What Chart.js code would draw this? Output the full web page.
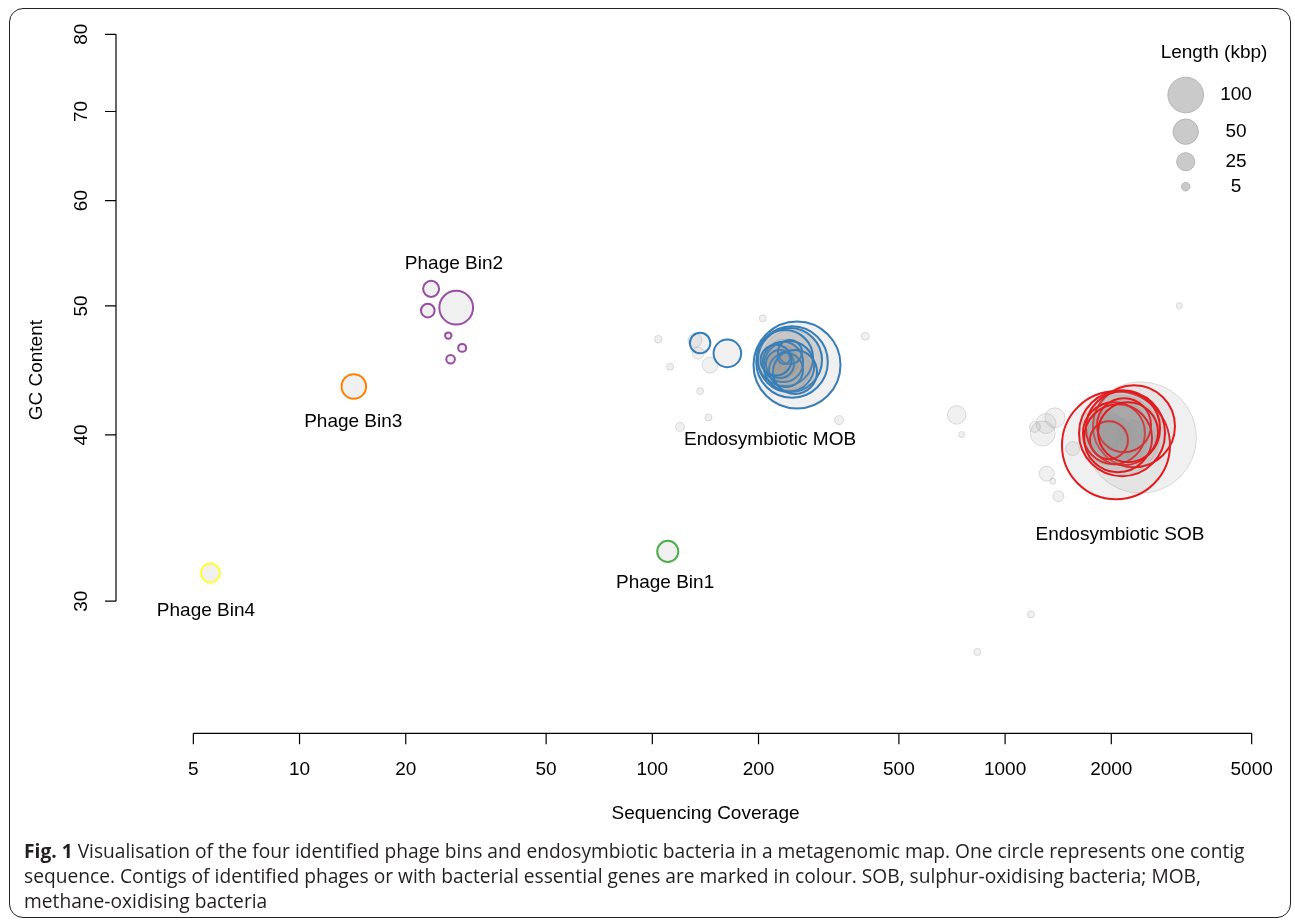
<!DOCTYPE html>
<html>
<head>
<meta charset="utf-8">
<script src="https://cdn.jsdelivr.net/npm/chart.js@4.4.1/dist/chart.umd.min.js"></script>
<style>
  html, body { margin: 0; padding: 0; background: #fff; }
  #wrap { position: relative; width: 1295px; height: 921px; overflow: hidden; }
  #frame { position: absolute; left: 9px; top: 8px; width: 1282px; height: 910px;
           border: 1.5px solid #222; border-radius: 14px; box-sizing: border-box; }
  #plot { position: absolute; left: 0; top: 0; }
  #caption { position: absolute; left: 24px; top: 838px; font-family: 'Open Sans', sans-serif;
             font-size: 19.2px; line-height: 25px; color: #231f20; white-space: nowrap; }
  #caption b { font-weight: 700; }
</style>
</head>
<body>
<div id="wrap">
  <div id="frame"></div>
  <canvas id="plot" width="1295" height="921"></canvas>
  <div id="caption">
    <b>Fig. 1</b> Visualisation of the four identified phage bins and endosymbiotic bacteria in a metagenomic map. One circle represents one contig<br>
    sequence. Contigs of identified phages or with bacterial essential genes are marked in colour. SOB, sulphur-oxidising bacteria; MOB,<br>
    methane-oxidising bacteria
  </div>
</div>
<script>
// Axis ticks
const coverageTicks = [5, 10, 20, 50, 100, 200, 500, 1000, 2000, 5000];
const gcTicks = [30, 40, 50, 60, 70, 80];

// Legend sizes (kbp)
const legendLengths = [100, 50, 25, 5];

// Unassigned contigs (grey)
const otherCoverage = [104.0, 205.6, 401.6, 112.3, 136.6, 144.2, 119.8, 338.3, 132.1, 134.8, 145.8,
                       239.3, 230.1, 242.5, 234.7, 248.9,
                       3118, 729, 753.4, 1278, 1385, 1215, 1306, 1312, 1365, 1416, 1554, 1184, 834,
                       2423, 2117, 1983, 2350, 2090, 2187, 1919];
const otherGC =       [47.21, 48.94, 47.45, 45.01, 43.15, 41.23, 40.56, 41.04, 47.12, 46.08, 45.14,
                       45.14, 45.38, 44.91, 45.38, 45.53,
                       50.02, 41.41, 40.03, 40.10, 41.20, 40.56, 40.80, 37.41, 36.93, 35.98, 39.07, 29.32, 27.48,
                       39.82, 39.98, 39.64, 39.64, 40.33, 39.64, 40.33];
const otherLength =   [2.8, 2.4, 3.3, 2.4, 2.4, 2.4, 4.5, 4.5, 12.5, 8.8, 16.9,
                       207, 97, 147, 66, 278,
                       1.6, 23.6, 1.6, 44.7, 27.6, 7.2, 27.6, 14.7, 1.6, 7.2, 12.5, 2.4, 2.4,
                       985, 502, 191, 120, 278, 147, 120];

// Endosymbiotic MOB contigs
const mobCoverage = [136.6, 163.2, 257.1, 248.9, 245.6, 237.8, 244.1, 234.7, 239.3, 230.1, 245.6, 236.2, 253.8, 224.2];
const mobGC =       [46.9, 46.06, 45.14, 45.38, 45.53, 45.69, 45.06, 45.38, 44.75, 45.22, 46.17, 45.69, 44.60, 45.53];
const mobLength =   [29, 55, 595, 400, 318, 242, 194, 122, 86, 57, 41, 9, 147, 70];

// Endosymbiotic SOB contigs
const sobCoverage = [2062, 2319, 2145, 2159, 2035, 2173, 1970, 2090, 2231];
const sobGC =       [39.29, 40.61, 40.12, 40.47, 40.12, 40.68, 39.64, 39.77, 40.19];
const sobLength =   [924, 528, 582, 428, 298, 224, 108, 360, 278];

// Phage bins
const bin1Coverage = [110.6];
const bin1GC = [32.7];
const bin1Length = [31];

const bin2Coverage = [27.8, 23.6, 23.1, 26.4, 28.9, 26.8];
const bin2GC = [49.85, 51.5, 49.6, 47.5, 46.5, 45.6];
const bin2Length = [84, 17, 11.8, 1.9, 3.3, 4];

const bin3Coverage = [14.25];
const bin3GC = [43.5];
const bin3Length = [43];

const bin4Coverage = [5.59];
const bin4GC = [31.5];
const bin4Length = [25];

// Group annotations
const groupLabels = ['Phage Bin2', 'Phage Bin3', 'Phage Bin1', 'Phage Bin4', 'Endosymbiotic MOB', 'Endosymbiotic SOB'];
const labelCoverage = [27.4, 14.2, 108.7, 5.43, 215.6, 2117];
const labelGC = [53.8, 40.9, 30.95, 29.53, 39.64, 33.63];

// Circle radius in pixels from contig length in kbp
function radiusFor(len) { return 1.75 * Math.sqrt(len) + 0.8; }

function points(cov, gc, len) {
  return cov.map((c, i) => ({ x: c, y: gc[i], r: radiusFor(len[i]) }));
}

const FILL = 'rgba(150,150,150,0.14)';
const FONT = '19px "Liberation Sans", Arial, sans-serif';

function groupSet(label, cov, gc, len, color) {
  return {
    label, data: points(cov, gc, len),
    backgroundColor: FILL, borderColor: color, borderWidth: 2, order: 0
  };
}

const datasets = [
  groupSet('Phage Bin1', bin1Coverage, bin1GC, bin1Length, '#4daf4a'),
  groupSet('Phage Bin2', bin2Coverage, bin2GC, bin2Length, '#984ea3'),
  groupSet('Phage Bin3', bin3Coverage, bin3GC, bin3Length, '#ff7f00'),
  groupSet('Phage Bin4', bin4Coverage, bin4GC, bin4Length, '#ffff33'),
  groupSet('MOB', mobCoverage, mobGC, mobLength, '#377eb8'),
  groupSet('SOB', sobCoverage, sobGC, sobLength, '#e41a1c'),
  {
    label: 'Other', data: points(otherCoverage, otherGC, otherLength),
    backgroundColor: FILL, borderColor: 'rgba(150,150,150,0.3)', borderWidth: 1, order: 1
  }
];

const axesPlugin = {
  id: 'baseAxes',
  afterDatasetsDraw(chart) {
    const { ctx, chartArea, scales: { x, y } } = chart;
    ctx.save();
    ctx.strokeStyle = '#000';
    ctx.fillStyle = '#000';
    ctx.lineWidth = 1.2;
    ctx.font = FONT;

    // bottom axis
    const yb = chartArea.bottom;
    const x0 = x.getPixelForValue(coverageTicks[0]);
    const x1 = x.getPixelForValue(coverageTicks[coverageTicks.length - 1]);
    ctx.beginPath();
    ctx.moveTo(x0, yb); ctx.lineTo(x1, yb);
    coverageTicks.forEach(v => {
      const px = x.getPixelForValue(v);
      ctx.moveTo(px, yb); ctx.lineTo(px, yb + 11);
    });
    ctx.stroke();
    ctx.textAlign = 'center';
    ctx.textBaseline = 'middle';
    coverageTicks.forEach(v => {
      ctx.fillText(String(v), x.getPixelForValue(v), yb + 36);
    });

    // left axis
    const xl = chartArea.left;
    const y0 = y.getPixelForValue(gcTicks[0]);
    const y1 = y.getPixelForValue(gcTicks[gcTicks.length - 1]);
    ctx.beginPath();
    ctx.moveTo(xl, y0); ctx.lineTo(xl, y1);
    gcTicks.forEach(v => {
      const py = y.getPixelForValue(v);
      ctx.moveTo(xl, py); ctx.lineTo(xl - 11, py);
    });
    ctx.stroke();
    gcTicks.forEach(v => {
      ctx.save();
      ctx.translate(xl - 34, y.getPixelForValue(v));
      ctx.rotate(-Math.PI / 2);
      ctx.fillText(String(v), 0, 0);
      ctx.restore();
    });

    // axis titles
    ctx.fillText('Sequencing Coverage', (chartArea.left + chartArea.right) / 2, 814);
    ctx.save();
    ctx.translate(37, (chartArea.top + chartArea.bottom) / 2);
    ctx.rotate(-Math.PI / 2);
    ctx.fillText('GC Content', 0, 0);
    ctx.restore();

    // group annotations
    groupLabels.forEach((t, i) => {
      ctx.fillText(t, x.getPixelForValue(labelCoverage[i]), y.getPixelForValue(labelGC[i]));
    });

    // size legend
    ctx.fillText('Length (kbp)', 1214, 53);
    const legendY = [95, 131.7, 161.7, 186.7];
    legendLengths.forEach((len, i) => {
      ctx.beginPath();
      ctx.arc(1185.7, legendY[i], radiusFor(len) - 0.5, 0, Math.PI * 2);
      ctx.fillStyle = '#cacaca';
      ctx.fill();
      ctx.strokeStyle = '#b5b5b5';
      ctx.lineWidth = 1;
      ctx.stroke();
      ctx.fillStyle = '#000';
      ctx.fillText(String(len), 1236, legendY[i]);
    });
    ctx.restore();
  }
};

new Chart(document.getElementById('plot'), {
  type: 'bubble',
  data: { datasets },
  options: {
    responsive: false,
    devicePixelRatio: 1,
    animation: false,
    events: [],
    layout: { autoPadding: false, padding: { left: 116, right: 0, top: 7, bottom: 187.7 } },
    plugins: { legend: { display: false }, tooltip: { enabled: false } },
    scales: {
      x: { type: 'logarithmic', bounds: 'data', min: 3.018, max: 6634, display: false },
      y: { type: 'logarithmic', bounds: 'data', min: 23.87, max: 83.87, display: false }
    }
  },
  plugins: [axesPlugin]
});
</script>
</body>
</html>
